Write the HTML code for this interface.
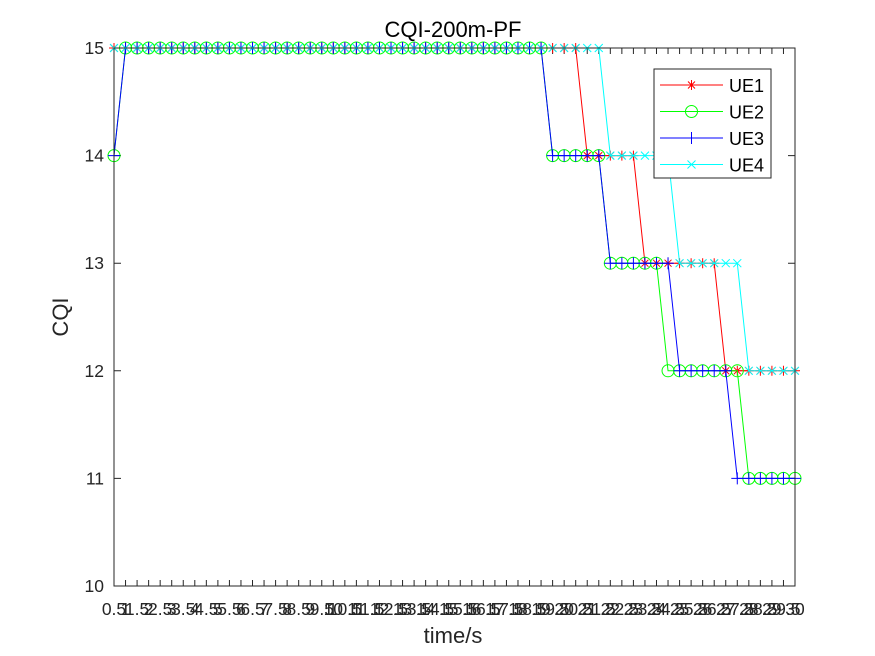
<!DOCTYPE html>
<html><head><meta charset="utf-8"><style>
body{margin:0;background:#fff;}
svg{display:block;font-family:"Liberation Sans",Arial,sans-serif;}
</style></head><body>
<svg id="chart" width="875" height="656">
<rect width="875" height="656" fill="#fff"/>
<rect x="114" y="48" width="681" height="538" fill="#fff"/>
<g id="grid"></g>
<g id="series"></g>
<rect x="114" y="48" width="681" height="538" fill="none" stroke="#262626" stroke-width="1"/>
<text x="453" y="37" text-anchor="middle" font-size="22" fill="#000">CQI-200m-PF</text>
<text x="453" y="643" text-anchor="middle" font-size="22" fill="#262626">time/s</text>
<text x="0" y="0" transform="translate(68,317) rotate(-90)" text-anchor="middle" font-size="22" fill="#262626">CQI</text>
<g id="legend"></g>
</svg>
<script>
const times = [];
for (let k = 1; k <= 60; k++) times.push(k * 0.5);
const ue1 = [15,15,15,15,15,15,15,15,15,15,15,15,15,15,15,15,15,15,15,15,15,15,15,15,15,15,15,15,15,15,15,15,15,15,15,15,15,15,15,15,15,14,14,14,14,14,13,13,13,13,13,13,13,12,12,12,12,12,12,12];
const ue2 = [14,15,15,15,15,15,15,15,15,15,15,15,15,15,15,15,15,15,15,15,15,15,15,15,15,15,15,15,15,15,15,15,15,15,15,15,15,15,14,14,14,14,14,13,13,13,13,13,12,12,12,12,12,12,12,11,11,11,11,11];
const ue3 = [14,15,15,15,15,15,15,15,15,15,15,15,15,15,15,15,15,15,15,15,15,15,15,15,15,15,15,15,15,15,15,15,15,15,15,15,15,15,14,14,14,14,14,13,13,13,13,13,13,12,12,12,12,12,11,11,11,11,11,11];
const ue4 = [15,15,15,15,15,15,15,15,15,15,15,15,15,15,15,15,15,15,15,15,15,15,15,15,15,15,15,15,15,15,15,15,15,15,15,15,15,15,15,15,15,15,15,14,14,14,14,14,14,13,13,13,13,13,13,12,12,12,12,12];
const yTicks = [10,11,12,13,14,15];
const seriesNames = ['UE1','UE2','UE3','UE4'];

const NS = 'http://www.w3.org/2000/svg';
const X0 = 114, X1 = 795, Y0 = 586, Y1 = 48;
const xMin = 0.5, xMax = 30, yMin = 10, yMax = 15;
function xs(t){ return X0 + (t - xMin) / (xMax - xMin) * (X1 - X0); }
function ys(v){ return Y0 - (v - yMin) / (yMax - yMin) * (Y0 - Y1); }
function mk(tag, attrs, parent){ const e = document.createElementNS(NS, tag); for (const k in attrs) e.setAttribute(k, attrs[k]); parent.appendChild(e); return e; }

const grid = document.getElementById('grid');
times.forEach(t => {
  const x = xs(t);
  const tk = mk('path', {d:`M${x},${Y0}v-6M${x},${Y1}v6`, stroke:'#262626', 'stroke-width':1}, grid);
  
  
  const lb = mk('text', {x:x, y:615, 'text-anchor':'middle', 'font-size':17.5, fill:'#262626'}, grid);
  lb.textContent = String(t);
  
  
});
yTicks.forEach(v => {
  const y = ys(v);
  const tk = mk('path', {d:`M${X0},${y}h7M${X1},${y}h-7`, stroke:'#262626', 'stroke-width':1}, grid);
  
  
  const lb = mk('text', {x:104, y:y+6, 'text-anchor':'end', 'font-size':17.5, fill:'#262626'}, grid);
  lb.textContent = String(v);
  
  
});

function marker(type, x, y, color, g){
  let d;
  if (type === 'star') d = `M${x-5},${y}h10M${x},${y-5}v10M${x-3.5},${y-3.5}l7,7M${x-3.5},${y+3.5}l7,-7`;
  else if (type === 'plus') d = `M${x-6},${y}h12M${x},${y-6}v12`;
  else if (type === 'x') d = `M${x-4},${y-4}l8,8M${x-4},${y+4}l8,-8`;
  if (type === 'circle') return mk('circle', {cx:x, cy:y, r:6, fill:'none', stroke:color, 'stroke-width':1}, g);
  return mk('path', {d:d, fill:'none', stroke:color, 'stroke-width':1}, g);
}

const seriesData = [ue1, ue2, ue3, ue4];
const colors = ['#ff0000','#00ff00','#0000ff','#00ffff'];
const markers = ['star','circle','plus','x'];
const sg = document.getElementById('series');
seriesData.forEach((vals, si) => {
  const g = mk('g', {}, sg);
  
  
  const pts = vals.map((v, i) => xs(times[i]) + ',' + ys(v)).join(' ');
  const ln = mk('polyline', {points:pts, fill:'none', stroke:colors[si], 'stroke-width':1}, g);
  
  
  vals.forEach((v, i) => {
    const m = marker(markers[si], xs(times[i]), ys(v), colors[si], g);
    
    
  });
});

const lg = document.getElementById('legend');
const box = mk('rect', {x:654, y:69, width:117, height:109, fill:'#fff', stroke:'#262626', 'stroke-width':1}, lg);


seriesNames.forEach((n, i) => {
  const y = 85 + i * 26.5;
  const g = mk('g', {}, lg);
  
  
  mk('line', {x1:660, x2:723, y1:y, y2:y, stroke:colors[i], 'stroke-width':1}, g);
  marker(markers[i], 691.5, y, colors[i], g);
  const t = mk('text', {x:729, y:y+7, 'font-size':18, fill:'#000'}, g);
  t.textContent = n;
});
</script>
</body></html>
